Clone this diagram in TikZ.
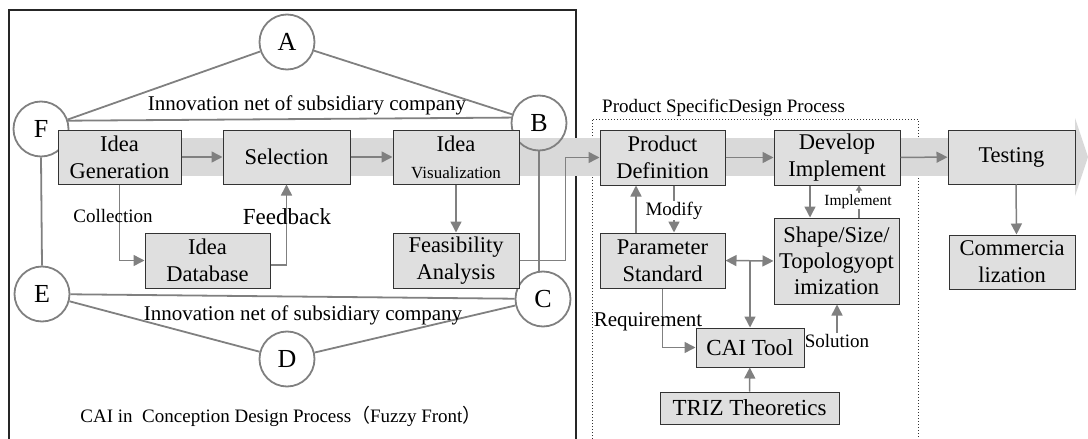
\documentclass[tikz,border=0pt]{standalone}
\usepackage{fontspec}
\setmainfont{Liberation Serif}
\newfontfamily\cjkfont{Noto Sans CJK SC}
\usetikzlibrary{arrows.meta, positioning}

\begin{document}
\begin{tikzpicture}[x=1pt, y=-1pt, every node/.style={font=\fontsize{21}{25}\selectfont},
  box/.style={rectangle, draw=black!80, fill=gray!25, line width=1pt, inner sep=0pt, align=center, font=\fontsize{22.5}{27}\selectfont},
  net/.style={circle, draw=gray, line width=1.8pt, minimum size=55pt, inner sep=0pt, font=\fontsize{26}{28}\selectfont},
  link/.style={draw=gray, line width=1.8pt},
  flow/.style={-{Triangle[length=11pt,width=11pt]}, draw=gray, line width=1.5pt},
  note/.style={anchor=base, inner sep=1pt, font=\fontsize{19}{22}\selectfont}
]
\useasboundingbox (0,0) rectangle (1088,439);
% Frames
\draw[black!85, line width=1.2pt] (9,439) |- (576,10) -- (576,439);
\draw[black!80, dotted, line width=1pt] (592,439) |- (918,119) -- (918,439);
% Main band
\fill[black!15] (58,138) rectangle (1075,176);
\fill[black!15] (1075,118) -- (1088,157) -- (1075,196) -- cycle;
% Innovation net
\node[net] (A) at (287,42) {A};
\node[net] (B) at (539,123) {B};
\node[net] (C) at (543,299) {C};
\node[net] (D) at (287,359) {D};
\node[net] (E) at (42,294) {E};
\node[net] (F) at (41,129) {F};
\draw[link] (F) -- (A) -- (B);
\draw[link] (F.17) -- (B.169);
\draw[link] (E) -- (D) -- (C);
\draw[link] (E) -- (C);
\draw[link] (F.south) -- (E.north);
\draw[link] (B.south) -- (B.south |- C.north);
\node[anchor=base] (nettop) at (307,110) {Innovation net of subsidiary company};
\node[anchor=base] (netbot) at (303,320) {Innovation net of subsidiary company};
% Conception design boxes
\node[box, minimum width=123pt, minimum height=54pt] (gen) at (119.5,157) {Idea\\Generation};
\node[box, minimum width=127pt, minimum height=54pt] (sel) at (286.5,157) {Selection};
\node[box, minimum width=126pt, minimum height=54pt] (vis) at (456,157) {Idea\\{\fontsize{17}{20}\selectfont Visualization}};
\node[box, minimum width=125pt, minimum height=55pt] (db) at (207.5,260.5) {Idea\\Database};
\node[box, minimum width=126pt, minimum height=55pt] (fea) at (456,260.5) {Feasibility\\Analysis};
% Product design boxes
\node[box, minimum width=125pt, minimum height=55pt] (pd) at (662.5,157.5) {Product\\Definition};
\node[box, minimum width=126pt, minimum height=55pt] (di) at (837,157.5) {Develop\\Implement};
\node[box, minimum width=127pt, minimum height=54pt] (test) at (1011.5,157) {Testing};
\node[box, minimum width=126pt, minimum height=54pt] (com) at (1012,262) {Commercia\\lization};
\node[box, minimum width=125pt, minimum height=55pt] (ps) at (662.5,260.5) {Parameter\\Standard};
\node[box, minimum width=125pt, minimum height=86pt, font=\fontsize{22.5}{26}\selectfont] (shape) at (836.5,261) {Shape/Size/\\Topologyopt\\imization};
\node[box, minimum width=108pt, minimum height=39pt, font=\fontsize{23}{27}\selectfont] (cai) at (750,347.5) {CAI Tool};
\node[box, minimum width=179pt, minimum height=32pt, font=\fontsize{23}{27}\selectfont] (triz) at (749.5,408) {TRIZ Theoretics};
\coordinate (jn) at (750,261);
% Flows
\draw[flow] (gen) -- (sel);
\draw[flow] (sel) -- (vis);
\draw[flow] (vis) -- (fea);
\draw[flow] (gen) |- (db);
\draw[flow] ([yshift=-4.5pt]db.east) -| (sel);
\draw[flow] (fea.east) -- ++(46,0) |- (pd.west);
\draw[flow] (pd) -- (di);
\draw[flow] (di) -- (test);
\draw[flow] ([xshift=4.5pt]test.south) -- ([xshift=4.5pt]com.north);
\draw[flow] ([xshift=-26.5pt]ps.north) -- ([xshift=-26.5pt]pd.south);
\draw[flow] ([xshift=11.5pt]pd.south) -- ([xshift=11.5pt]ps.north);
\draw[flow] ([xshift=-27pt]di.south) -- ([xshift=-26.5pt]shape.north);
\draw[-{Triangle[length=5pt,width=6pt]}, draw=gray, line width=1.5pt] ([xshift=22.5pt]shape.north) -- ([xshift=22pt]di.south);
\draw[{Triangle[length=11pt,width=11pt]}-{Triangle[length=11pt,width=11pt]}, draw=gray, line width=1.5pt] (ps.east) -- (shape.west);
\draw[flow] (jn) -- (cai);
\draw[flow] (ps) |- (cai);
\draw[flow] (triz) -- (cai);
% Labels
\node[note] (coll) at (113,222) {Collection};
\node[note, font=\fontsize{23}{26}\selectfont] (feed) at (287,224) {Feedback};
\node[note, fill=white] (mod) at (674,215) {Modify};
\node[note, fill=white, font=\fontsize{15.5}{18}\selectfont] (impl) at (858,205) {Implement};
\node[note, font=\fontsize{21}{24}\selectfont] (req) at (648,326) {Requirement};
\node[note] (sol) at (837,347) {Solution};
\draw[flow] (sol.north) -- (sol.north |- shape.south);
\node[note, anchor=base west] (pdp) at (601,112) {Product SpecificDesign Process};
\node[note] (cdp) at (281,422) {CAI in \ Conception Design Process{\cjkfont （}Fuzzy Front{\cjkfont ）}};
\end{tikzpicture}
\end{document}
